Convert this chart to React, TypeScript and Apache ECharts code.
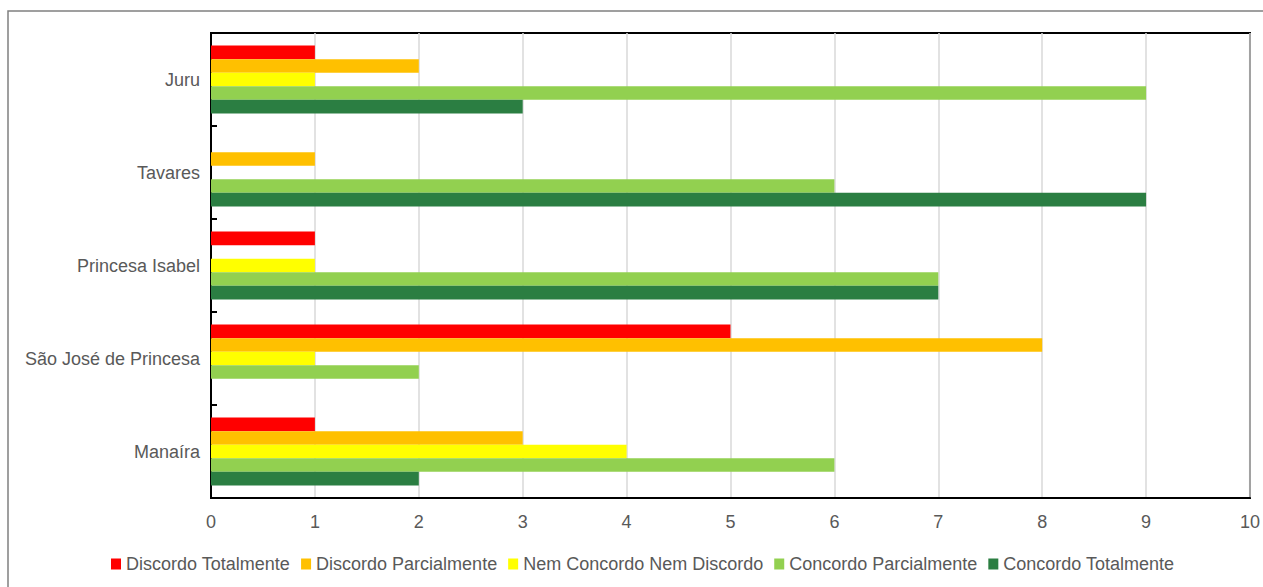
import React, { useEffect, useRef } from "react";
import * as echarts from "echarts";

const categories = ["Juru", "Tavares", "Princesa Isabel", "São José de Princesa", "Manaíra"];

const seriesNames = [
  "Discordo Totalmente",
  "Discordo Parcialmente",
  "Nem Concordo Nem Discordo",
  "Concordo Parcialmente",
  "Concordo Totalmente",
];

const seriesColors = ["#FF0000", "#FFC000", "#FFFF00", "#92D050", "#2B7E42"];

// one value per municipality, in the order of `categories` (null = no answers)
const discordoTotalmente = [1, null, 1, 5, 1];
const discordoParcialmente = [2, 1, null, 8, 3];
const nemConcordoNemDiscordo = [1, null, 1, 1, 4];
const concordoParcialmente = [9, 6, 7, 2, 6];
const concordoTotalmente = [3, 9, 7, null, 2];

const seriesValues = [
  discordoTotalmente,
  discordoParcialmente,
  nemConcordoNemDiscordo,
  concordoParcialmente,
  concordoTotalmente,
];

const xTicks = { min: 0, max: 10, interval: 1 };

const FONT = "'Liberation Sans', Arial, sans-serif";
const TEXT = "#595959";

export default function App() {
  const ref = useRef<HTMLDivElement>(null);

  useEffect(() => {
    document.body.style.margin = "0";
    if (!ref.current) return;
    const chart = echarts.init(ref.current, undefined, { renderer: "svg" });
    chart.setOption({
      animation: false,
      backgroundColor: "#FFFFFF",
      textStyle: { fontFamily: FONT },
      graphic: [
        {
          type: "rect",
          shape: { x: 8, y: 11, width: 1270, height: 600 },
          style: { fill: "none", stroke: "#808080", lineWidth: 1.5 },
          silent: true,
          z: -1,
        },
      ],
      grid: {
        left: 211,
        top: 33,
        right: 12,
        bottom: 89,
        show: true,
        borderColor: "#000000",
        borderWidth: 2,
        backgroundColor: "transparent",
      },
      legend: {
        top: 550,
        left: 106,
        itemWidth: 10,
        itemHeight: 11,
        itemGap: 11,
        icon: "rect",
        textStyle: { fontSize: 18, color: TEXT, fontFamily: FONT },
        data: seriesNames,
      },
      xAxis: {
        type: "value",
        min: xTicks.min,
        max: xTicks.max,
        interval: xTicks.interval,
        axisLine: { show: true, lineStyle: { color: "#000000", width: 2 } },
        axisTick: { show: false },
        axisLabel: { fontSize: 18, color: TEXT, margin: 15, fontFamily: FONT },
        splitLine: { show: true, lineStyle: { color: "#D9D9D9", width: 1.5 } },
      },
      yAxis: {
        type: "category",
        inverse: true,
        data: categories,
        axisLine: { show: true, lineStyle: { color: "#000000", width: 2 } },
        axisTick: { show: true, inside: true, length: 6, lineStyle: { color: "#000000", width: 2 } },
        axisLabel: { fontSize: 18, color: TEXT, margin: 11, fontFamily: FONT },
      },
      series: seriesNames.map((name, i) => ({
        name,
        type: "bar",
        data: seriesValues[i],
        barGap: "0%",
        barCategoryGap: "27%",
        itemStyle: { color: seriesColors[i] },
      })),
    });
    return () => chart.dispose();
  }, []);

  return <div ref={ref} style={{ width: 1263, height: 587 }} />;
}
